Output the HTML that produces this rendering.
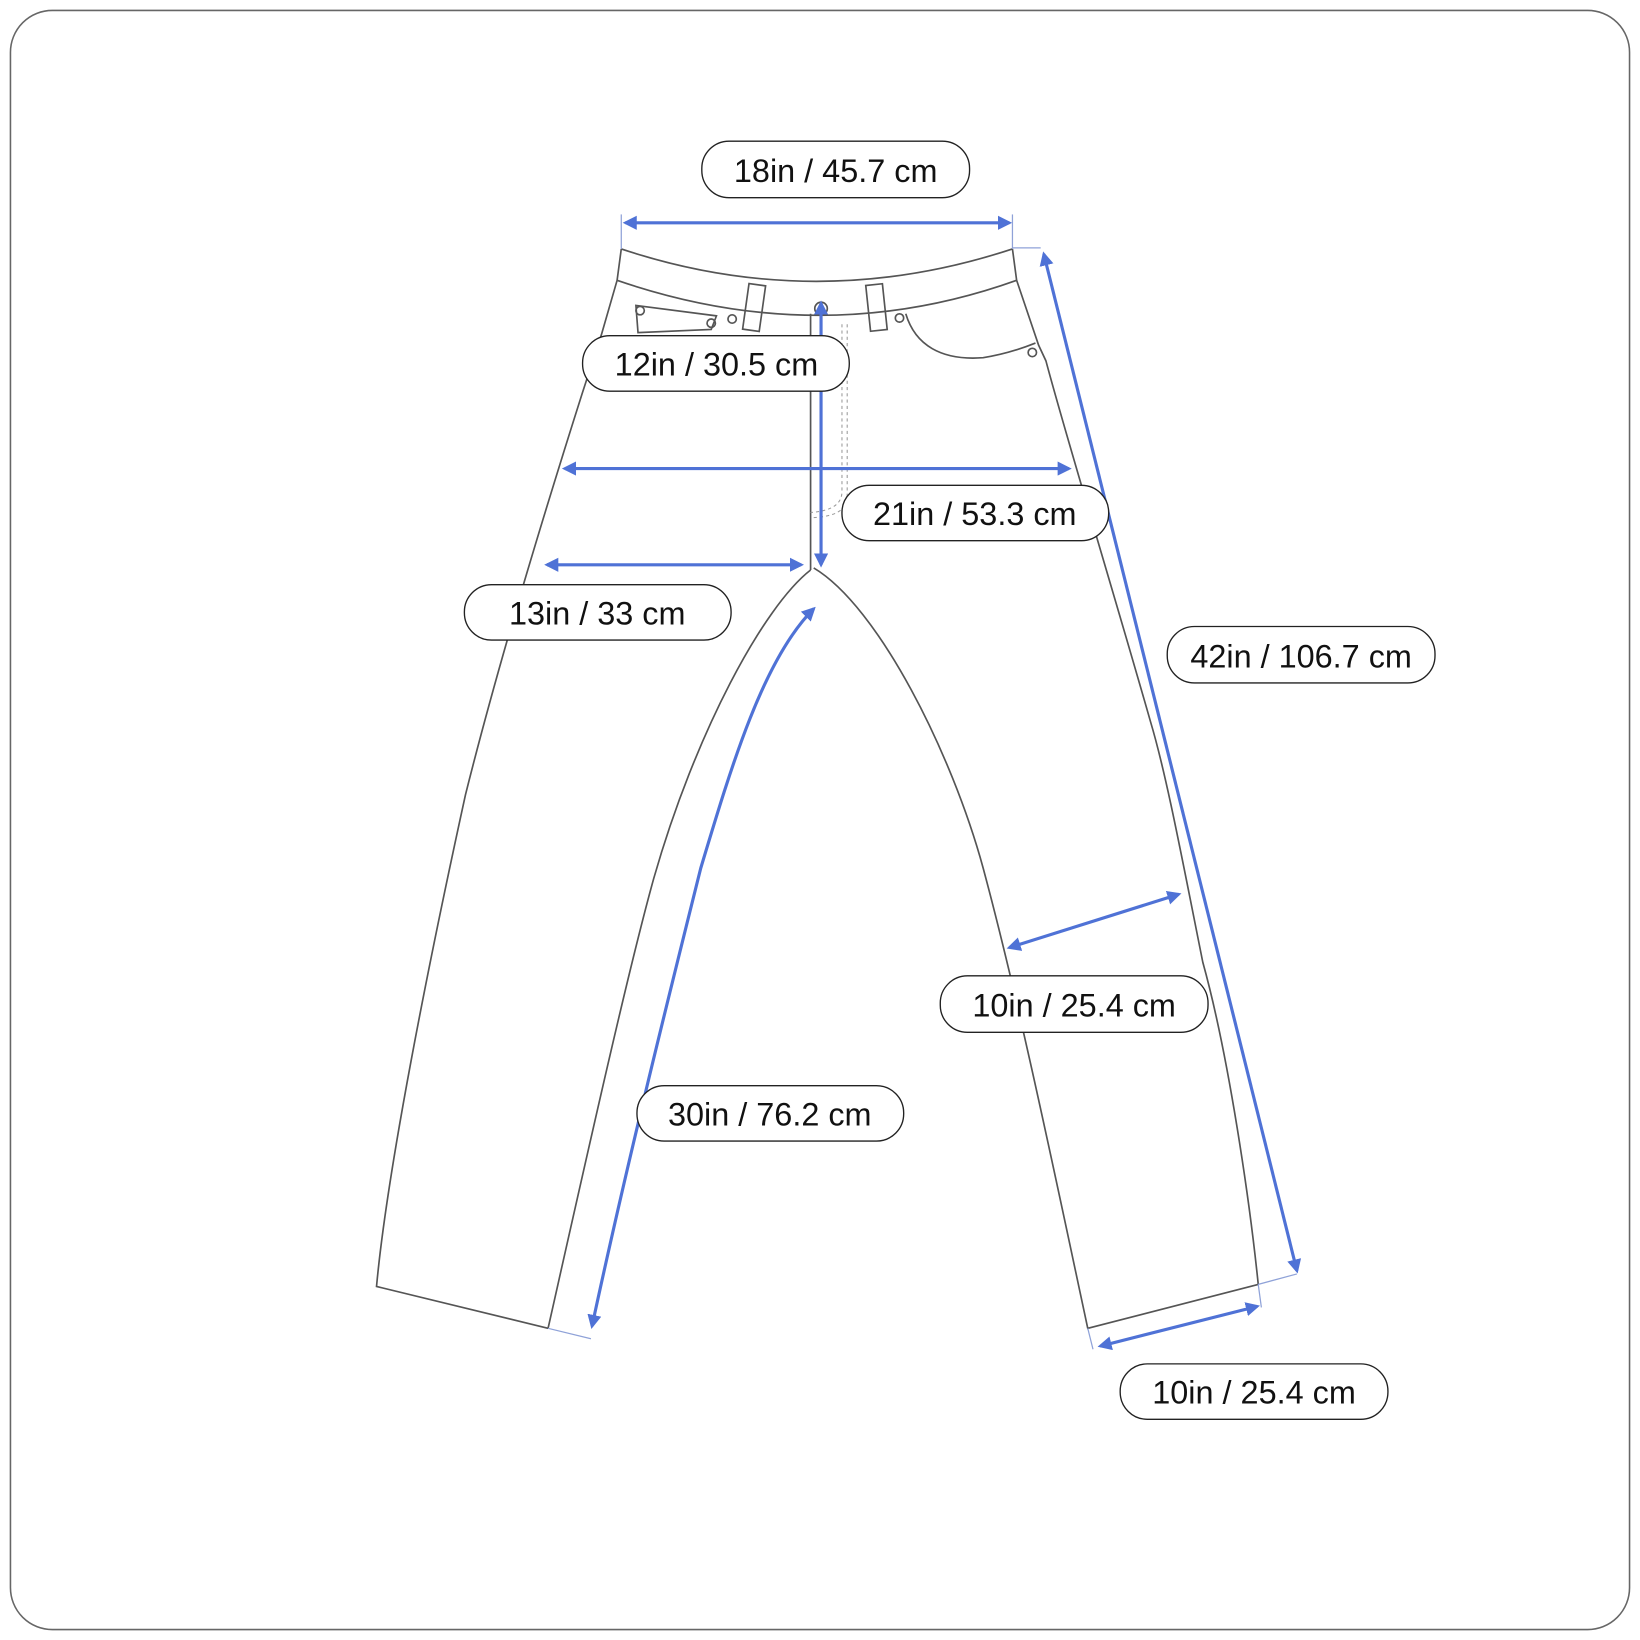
<!DOCTYPE html>
<html><head><meta charset="utf-8"><style>
html,body{margin:0;padding:0;background:#fff}
svg{display:block}
text{font-family:"Liberation Sans",sans-serif;font-size:31px;fill:#111;text-anchor:middle}
</style></head><body>
<svg width="1640" height="1640" viewBox="0 0 1568 1568" xmlns="http://www.w3.org/2000/svg">
<defs>
<marker id="a" viewBox="0 0 10 10" refX="8" refY="5" markerWidth="4.5" markerHeight="4.5" orient="auto-start-reverse"><path d="M0,0 L10,5 L0,10 z" fill="#4f72d6"/></marker>
</defs>
<rect x="10" y="10" width="1548" height="1548" rx="40" fill="#fff" stroke="#666" stroke-width="1.5"/>
<g fill="none" stroke="#555" stroke-width="1.6">
<path d="M594,238 Q780,300 968,238"/>
<path d="M590,268 Q785,335 972,268"/>
<path d="M594,238 L590,268 L575,320 L557,375 C530,460 480,620 445,760 C410,920 370,1120 360,1230 L524,1270"/>
<path d="M524,1270 C560,1110 600,930 625,840 C665,700 730,580 775,545"/>
<path d="M778,543 C840,580 910,720 940,830 C975,960 1010,1130 1040,1270 L1203,1228"/>
<path d="M1203,1228 C1195,1150 1175,1010 1150,920 C1130,820 1115,740 1100,690 C1060,550 1020,420 1000,345 L993,330 L972,268 L968,238"/>
<path d="M775,300 L775,545"/>
<path d="M608,292 L610,318 L680,315 L685,302 Z"/>
<path d="M866,300 C875,330 900,345 940,342 C965,338 985,330 990,328"/>
<rect x="713" y="272" width="16" height="44" transform="rotate(8 721 294)"/>
<rect x="830" y="272" width="16" height="44" transform="rotate(-6 838 294)"/>
<circle cx="612" cy="297" r="4"/><circle cx="680" cy="309" r="4"/><circle cx="700" cy="305" r="4"/>
<circle cx="860" cy="304" r="4"/><circle cx="987" cy="337" r="4"/><circle cx="785" cy="295" r="6"/>
</g>
<path d="M805,310 L805,470 Q805,488 775,490 M810,310 L810,475 Q810,494 775,495" fill="none" stroke="#999" stroke-width="1" stroke-dasharray="3,3"/>
<g stroke="#8fa2d8" stroke-width="1.2">
<line x1="594" y1="205" x2="594" y2="238"/><line x1="968" y1="205" x2="968" y2="238"/>
<line x1="968" y1="237" x2="995" y2="237"/>
<line x1="524" y1="1270" x2="565" y2="1280"/>
<line x1="1040" y1="1270" x2="1045" y2="1290"/><line x1="1203" y1="1228" x2="1206" y2="1250"/>
<line x1="1203" y1="1228" x2="1240" y2="1218"/>
</g>
<g fill="none" stroke="#4f72d6" stroke-width="3" marker-start="url(#a)" marker-end="url(#a)">
<line x1="598" y1="213" x2="965" y2="213"/>
<line x1="785" y1="290" x2="785" y2="540"/>
<line x1="540" y1="448" x2="1022" y2="448"/>
<line x1="523" y1="540" x2="766" y2="540"/>
<line x1="998" y1="243" x2="1240" y2="1215"/>
<path d="M566,1268 C600,1110 640,950 670,830 C700,730 730,630 778,582"/>
<line x1="965" y1="906" x2="1127" y2="855"/>
<line x1="1052" y1="1287" x2="1202" y2="1249"/>
</g>
<g fill="#fff" stroke="#222" stroke-width="1.3">
<rect x="671" y="135" width="256" height="54" rx="26"/>
<rect x="557" y="321" width="255" height="53" rx="26"/>
<rect x="805" y="464" width="255" height="53" rx="26"/>
<rect x="444" y="559" width="255" height="53" rx="26"/>
<rect x="1116" y="599" width="256" height="54" rx="26"/>
<rect x="899" y="933" width="256" height="54" rx="26"/>
<rect x="609" y="1038" width="255" height="53" rx="26"/>
<rect x="1071" y="1304" width="256" height="53" rx="26"/>
</g>
<text x="799" y="174">18in / 45.7 cm</text>
<text x="685" y="359">12in / 30.5 cm</text>
<text x="932" y="502">21in / 53.3 cm</text>
<text x="571" y="597">13in / 33 cm</text>
<text x="1244" y="638">42in / 106.7 cm</text>
<text x="1027" y="972">10in / 25.4 cm</text>
<text x="736" y="1076">30in / 76.2 cm</text>
<text x="1199" y="1342">10in / 25.4 cm</text>
</svg>
</body></html>
